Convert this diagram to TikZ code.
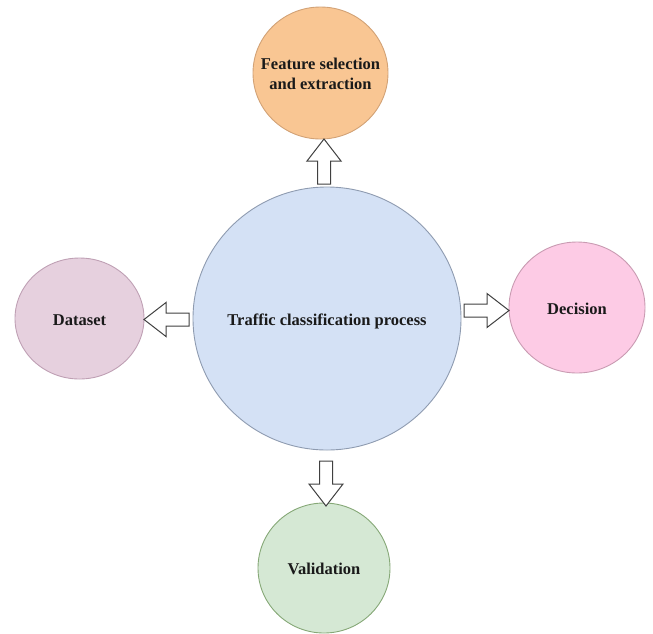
\documentclass[tikz,border=0pt]{standalone}
\usepackage{fontspec}
\setmainfont{Liberation Serif}
\usetikzlibrary{shapes.geometric}

\definecolor{coreFill}{HTML}{D4E1F5}
\definecolor{coreLine}{HTML}{8E9BB0}
\definecolor{featFill}{HTML}{F9C693}
\definecolor{featLine}{HTML}{D2A276}
\definecolor{dataFill}{HTML}{E6D0DE}
\definecolor{dataLine}{HTML}{BFA0B4}
\definecolor{decFill}{HTML}{FDCBE5}
\definecolor{decLine}{HTML}{C99BB2}
\definecolor{valFill}{HTML}{D5E8D4}
\definecolor{valLine}{HTML}{86A877}
\definecolor{labelInk}{HTML}{1A1A1A}

% centred label of zero size, so the ellipse keeps its given size
\newcommand{\blobtext}[1]{\raisebox{-7pt}[0pt][0pt]{\makebox[0pt][c]{\begin{tabular}{@{}c@{}}#1\end{tabular}}}}

\tikzset{
  blob/.style={ellipse, draw, line width=0.9pt, inner sep=0pt, outer sep=0pt,
    font=\bfseries\fontsize{16.5}{20}\selectfont, text=labelInk},
  arrowline/.style={draw=black!75, fill=white, line width=1pt, line join=miter},
  blockarrow/.pic={
    \path[arrowline] (0,0) -- (-22,17) -- (-22,6.5) -- (-45,6.5)
      -- (-45,-6.5) -- (-22,-6.5) -- (-22,-17) -- cycle;
  }
}

\begin{document}
\begin{tikzpicture}[x=1pt, y=1pt]
  \useasboundingbox (0,0) rectangle (653,-633);

  % central process and the four stages around it
  \node[blob, fill=coreFill, draw=coreLine, minimum width=268pt, minimum height=263pt]
    (core) at (327,-318.5) {\blobtext{Traffic classification process}};
  \node[blob, fill=featFill, draw=featLine, minimum width=135pt, minimum height=132pt]
    (feat) at (320.5,-73) {\blobtext{Feature selection\\and extraction}};
  \node[blob, fill=dataFill, draw=dataLine, minimum width=129pt, minimum height=121pt]
    (data) at (79.5,-318.5) {\blobtext{Dataset}};
  \node[blob, fill=decFill, draw=decLine, minimum width=136pt, minimum height=131pt]
    (dec) at (577,-307.5) {\blobtext{Decision}};
  \node[blob, fill=valFill, draw=valLine, minimum width=132pt, minimum height=130pt]
    (val) at (324,-568) {\blobtext{Validation}};

  % hollow block arrows, tip on the target stage
  \pic[rotate=90]  at ([xshift=3.5pt]feat.south) {blockarrow};
  \pic[rotate=180] at ([yshift=-1pt]data.east) {blockarrow};
  \pic[rotate=0]   at ([yshift=-3pt]dec.west) {blockarrow};
  \pic[rotate=-90] at ([xshift=2pt,yshift=-3pt]val.north) {blockarrow};
\end{tikzpicture}
\end{document}
